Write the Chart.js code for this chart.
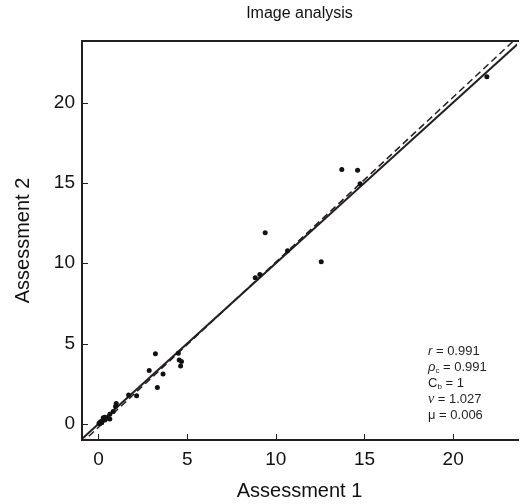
<!DOCTYPE html>
<html>
<head>
<meta charset="utf-8">
<script src="https://cdn.jsdelivr.net/npm/chart.js@4"></script>
<style>
  html, body { margin: 0; padding: 0; background: #fff; }
  #wrap { width: 521px; height: 504px; }
</style>
</head>
<body>
<div id="wrap"><canvas id="agreementChart" width="521" height="504"></canvas></div>
<script>
// Assessment 1 vs Assessment 2
const assess1 = [0.03, 0.08, 0.12, 0.18, 0.22, 0.27, 0.36, 0.36, 0.51, 0.64, 0.64, 0.83, 0.96, 1.0,
                 1.7, 2.15, 2.86, 3.21, 3.32, 3.64, 4.5, 4.55, 4.68, 4.63,
                 8.84, 9.1, 9.4, 10.66, 12.56, 13.72, 14.61, 14.75, 21.9];
const assess2 = [0.04, 0.02, 0.14, 0.08, 0.2, 0.39, 0.42, 0.25, 0.35, 0.6, 0.31, 0.77, 1.08, 1.27,
                 1.8, 1.76, 3.32, 4.37, 2.26, 3.11, 4.4, 3.98, 3.88, 3.61,
                 9.1, 9.3, 11.9, 10.78, 10.1, 15.83, 15.79, 14.95, 21.6];

// line of equality and fitted line (end points)
const lineX = [-1, 24];
const identityY = [-1, 24];
const fitY = [-1.23, 24.45];

const xTicks = [0, 5, 10, 15, 20];
const yTicks = [0, 5, 10, 15, 20];

const statNames = ['r', 'ρ', 'C', 'ν', 'μ'];
const statSubs = ['', 'c', 'b', '', ''];
const statValues = ['0.991', '0.991', '1', '1.027', '0.006'];

const ink = '#231f20';
const fontFamily = "'Liberation Sans', Arial, sans-serif";

const framePlugin = {
    id: 'framePlugin',
    afterDraw(chart) {
        const ctx = chart.ctx;
        const a = chart.chartArea;
        const xs = chart.scales.x;
        const ys = chart.scales.y;

        ctx.save();
        ctx.strokeStyle = ink;
        ctx.lineWidth = 2;
        ctx.beginPath();
        ctx.moveTo(a.right + 2, a.top);
        ctx.lineTo(a.left, a.top);
        ctx.lineTo(a.left, a.bottom);
        ctx.lineTo(a.right + 2, a.bottom);
        ctx.stroke();

        // inward tick marks
        ctx.lineWidth = 1;
        ctx.beginPath();
        xTicks.forEach(v => {
            const px = Math.round(xs.getPixelForValue(v)) + 0.5;
            ctx.moveTo(px, a.bottom);
            ctx.lineTo(px, a.bottom - 6);
        });
        yTicks.forEach(v => {
            const py = Math.round(ys.getPixelForValue(v)) + 0.5;
            ctx.moveTo(a.left, py);
            ctx.lineTo(a.left + 6, py);
        });
        ctx.stroke();

        // agreement statistics
        ctx.fillStyle = ink;
        ctx.textBaseline = 'middle';
        let ty = 351;
        const tx = 428;
        statNames.forEach((name, i) => {
            let cx = tx;
            if (name === 'r' || name === 'ρ') {
                ctx.font = `italic 13px ${fontFamily}`;
            } else if (name === 'ν') {
                ctx.font = `italic 14px 'Liberation Serif', 'DejaVu Serif', serif`;
            } else {
                ctx.font = `13px ${fontFamily}`;
            }
            ctx.fillText(name, cx, ty);
            cx += ctx.measureText(name).width;
            if (statSubs[i]) {
                ctx.font = `8px ${fontFamily}`;
                ctx.fillText(statSubs[i], cx, ty + 4);
                cx += ctx.measureText(statSubs[i]).width;
            }
            ctx.font = `13px ${fontFamily}`;
            ctx.fillText(' = ' + statValues[i], cx, ty);
            ty += 16;
        });
        ctx.restore();
    }
};

const ctx = document.getElementById('agreementChart').getContext('2d');
const chart = new Chart(ctx, {
    type: 'scatter',
    data: {
        datasets: [
            {
                label: 'Images',
                data: assess1.map((v, i) => ({ x: v, y: assess2[i] })),
                backgroundColor: '#111',
                borderColor: '#111',
                pointRadius: 2.5,
                pointBorderWidth: 0
            },
            {
                type: 'line',
                label: 'Equality',
                data: lineX.map((v, i) => ({ x: v, y: identityY[i] })),
                borderColor: ink,
                borderWidth: 2,
                pointRadius: 0,
                fill: false,
                clip: 0
            },
            {
                type: 'line',
                label: 'Fit',
                data: lineX.map((v, i) => ({ x: v, y: fitY[i] })),
                borderColor: ink,
                borderWidth: 1.5,
                borderDash: [7, 4],
                pointRadius: 0,
                fill: false,
                clip: 0
            }
        ]
    },
    options: {
        responsive: false,
        animation: false,
        devicePixelRatio: 1,
        layout: { padding: 0 },
        plugins: {
            legend: { display: false },
            tooltip: { enabled: false },
            title: {
                display: true,
                text: 'Image analysis',
                fullSize: false,
                color: '#111',
                font: { family: fontFamily, size: 16, weight: 'normal', lineHeight: 1.2 },
                padding: { top: 4, bottom: 17.8 }
            }
        },
        scales: {
            x: {
                type: 'linear',
                min: -0.93,
                max: 23.6,
                afterFit: s => { s.height = 64; },
                afterBuildTicks: s => { s.ticks = xTicks.map(v => ({ value: v })); },
                grid: { display: false, drawTicks: false },
                border: { display: false },
                ticks: {
                    color: '#111',
                    padding: 8,
                    maxRotation: 0,
                    font: { family: fontFamily, size: 19 }
                },
                title: {
                    display: true,
                    text: 'Assessment 1',
                    color: '#111',
                    font: { family: fontFamily, size: 20, lineHeight: 1.2 },
                    padding: { top: 0, bottom: 1 }
                }
            },
            y: {
                type: 'linear',
                min: -1.0,
                max: 23.83,
                afterFit: s => { s.width = 82; },
                afterBuildTicks: s => { s.ticks = yTicks.map(v => ({ value: v })); },
                grid: { display: false, drawTicks: false },
                border: { display: false },
                ticks: {
                    color: '#111',
                    padding: 7,
                    font: { family: fontFamily, size: 19 }
                },
                title: {
                    display: true,
                    text: 'Assessment 2',
                    color: '#111',
                    font: { family: fontFamily, size: 20, lineHeight: 1.2 },
                    padding: { top: 11, bottom: 0 }
                }
            }
        }
    },
    plugins: [framePlugin]
});
</script>
</body>
</html>
